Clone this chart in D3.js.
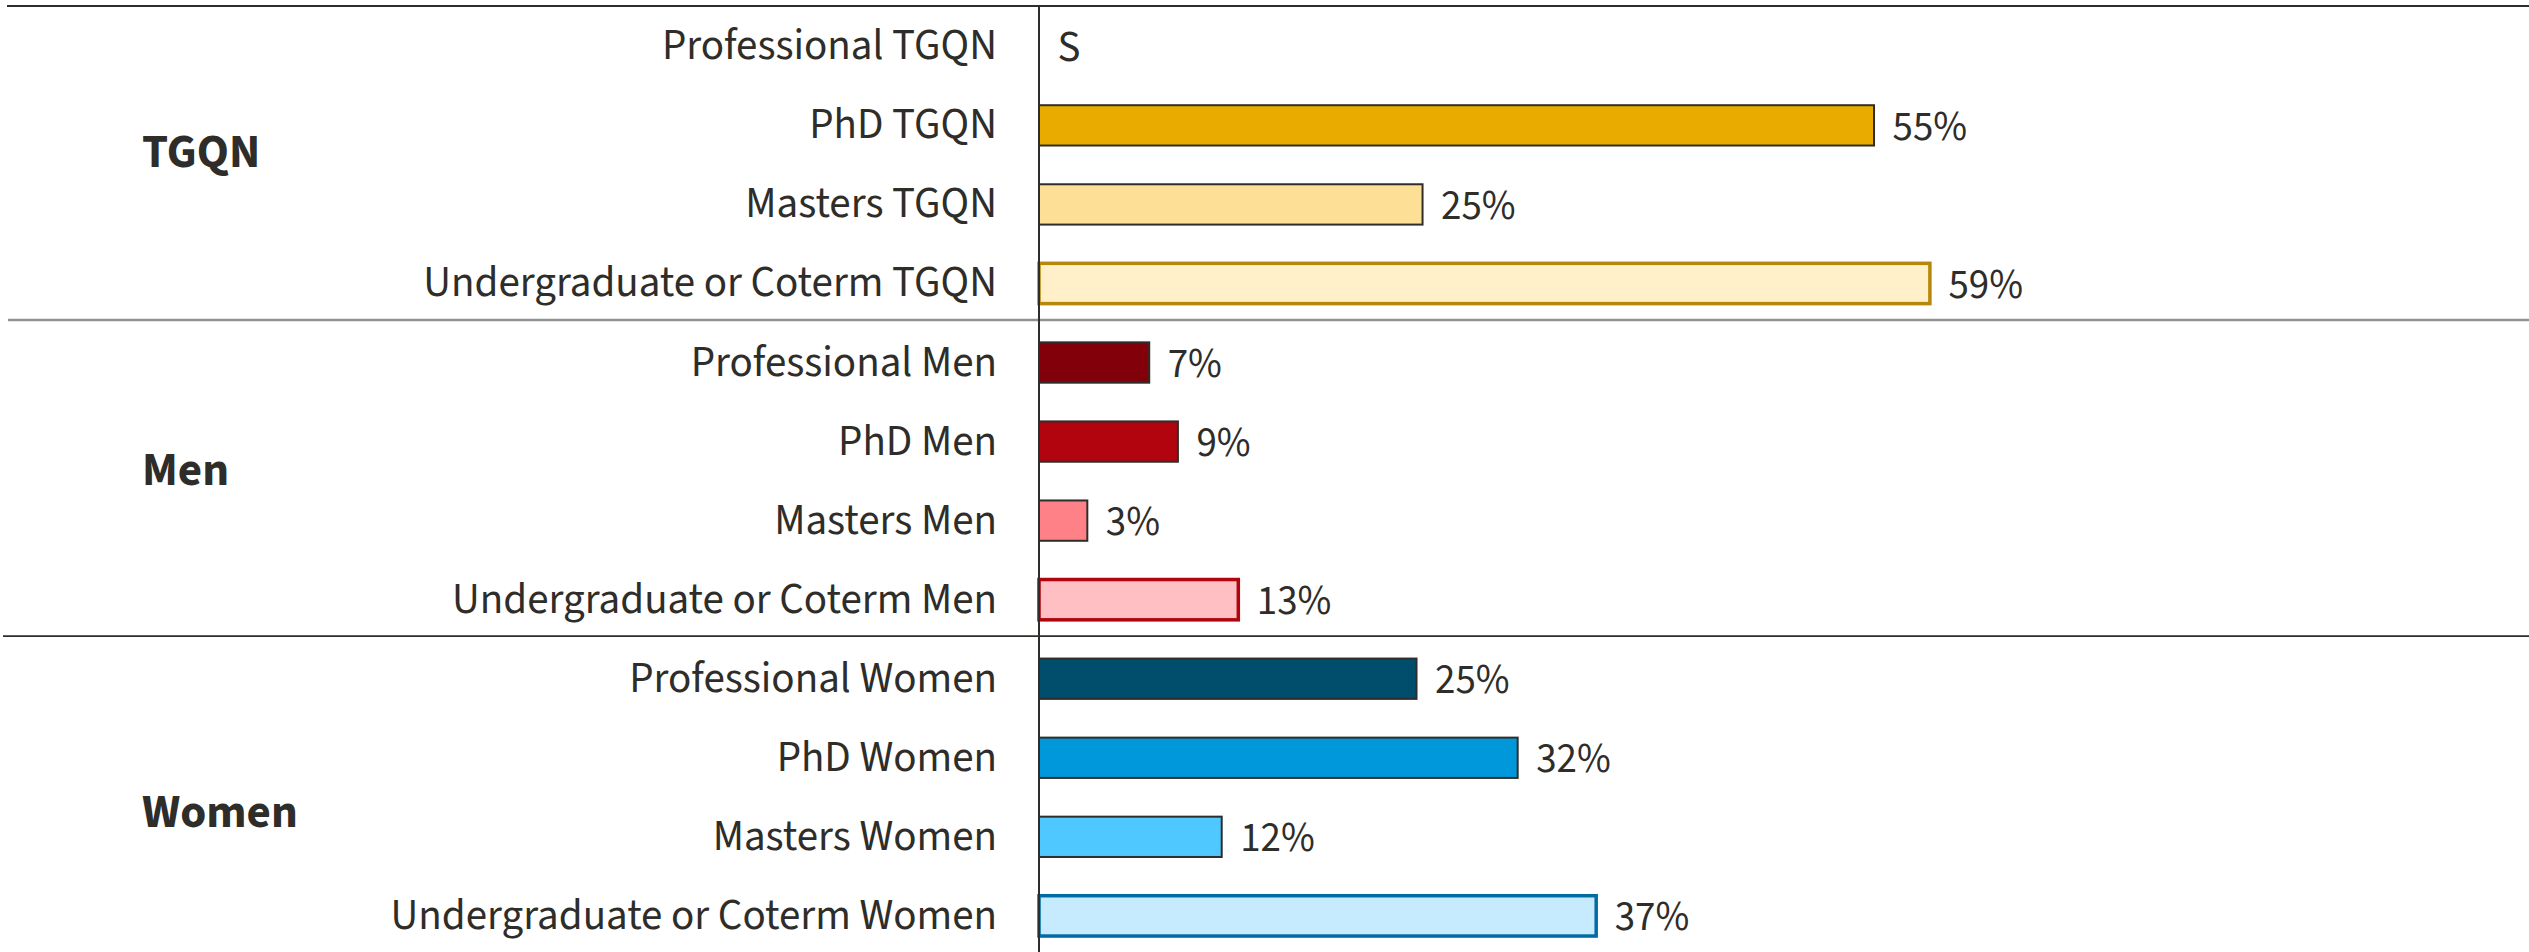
<!DOCTYPE html>
<html><head><meta charset="utf-8">
<script src="https://cdn.jsdelivr.net/npm/d3@7"></script>
<style>
html,body{margin:0;padding:0;background:#fff;}
svg{display:block;}
text{font-family:"Source Sans 3","Source Sans Pro",Lato,sans-serif;fill:#2e2d29;}
</style></head>
<body>
<svg id="chart" width="2529" height="952"></svg>
<script>
// ---- data ----
const groups = ["TGQN", "Men", "Women"];
const levels = ["Professional", "PhD", "Masters", "Undergraduate or Coterm"];
const valuesTGQN  = [null, 55.3, 25.4, 59.0];   // null = suppressed ("S")
const valuesMen   = [7.3, 9.2, 3.2, 13.2];
const valuesWomen = [25.0, 31.7, 12.1, 36.9];
const suppressedLabel = "S";

// colours per group (fills per level) and undergraduate outline
const fillsTGQN  = ["#E9AB00", "#E9AB00", "#FEDF96", "#FFF0CA"];
const fillsMen   = ["#820009", "#B1040E", "#FF8188", "#FFBFC3"];
const fillsWomen = ["#004D6C", "#0098DB", "#4FC8FF", "#C6EBFF"];
const ugStroke   = {TGQN: "#B5870A", Men: "#B1040E", Women: "#016CA2"};

// ---- build rows ----
const valuesBy = {TGQN: valuesTGQN, Men: valuesMen, Women: valuesWomen};
const fillsBy = {TGQN: fillsTGQN, Men: fillsMen, Women: fillsWomen};
const rows = [];
groups.forEach(g => levels.forEach((l, i) => rows.push({
  group: g, level: l, idx: i, key: l + " " + g, value: valuesBy[g][i], fill: fillsBy[g][i],
  stroke: i === 3 ? ugStroke[g] : "#2e2d29", sw: i === 3 ? 3.5 : 2
})));

const W = 2529, H = 952;
const axisX = 1039;
const svg = d3.select("#chart");

const y = d3.scaleBand().domain(rows.map(d => d.key))
  .range([6.8, 955.4]).paddingInner(0.49).paddingOuter(0.245);
const x = d3.scaleLinear().domain([0, 100]).range([axisX, axisX + 1510]);
const fmt = d => d3.format(".0f")(d) + "%";
const step = y.step();

// top line
svg.append("line").attr("x1", 7).attr("x2", W).attr("y1", 6).attr("y2", 6)
  .attr("stroke", "#2e2d29").attr("stroke-width", 2);

// group separators
const sepStyles = [{color: "#959190", w: 2.5, x1: 8}, {color: "#2e2d29", w: 1.8, x1: 3}];
groups.slice(1).forEach((g, i) => {
  const yy = y(levels[0] + " " + g) - (step - y.bandwidth()) / 2 - 3;
  svg.append("line").attr("x1", sepStyles[i].x1).attr("x2", W).attr("y1", yy).attr("y2", yy)
    .attr("stroke", sepStyles[i].color).attr("stroke-width", sepStyles[i].w);
});

// bars
svg.append("g").selectAll("rect").data(rows.filter(d => d.value != null)).join("rect")
  .attr("x", x(0)).attr("y", d => y(d.key))
  .attr("width", d => x(d.value) - x(0)).attr("height", y.bandwidth())
  .attr("fill", d => d.fill).attr("stroke", d => d.stroke).attr("stroke-width", d => d.sw);

// value labels
svg.append("g").selectAll("text").data(rows).join("text")
  .attr("x", d => (d.value == null ? x(0) : x(d.value)) + 18.5)
  .attr("y", d => y(d.key) + y.bandwidth() / 2 + (d.value == null ? 15 : 14.5))
  .attr("font-size", d => d.value == null ? 43 : 41)
  .text(d => d.value == null ? suppressedLabel : fmt(d.value));

// category labels
svg.append("g").selectAll("text").data(rows).join("text")
  .attr("x", 997).attr("text-anchor", "end")
  .attr("y", d => y(d.key) + y.bandwidth() / 2 + 13)
  .attr("font-size", 43)
  .text(d => d.key);

// group labels
const groupDy = {TGQN: 2, Men: 3.5, Women: 29.5};
svg.append("g").selectAll("text").data(groups).join("text")
  .attr("x", 142)
  .attr("y", g => {
    const a = y(levels[0] + " " + g), b = y(levels[3] + " " + g) + y.bandwidth();
    return (a + b) / 2 + groupDy[g];
  })
  .attr("font-size", 47).attr("font-weight", 700)
  .text(g => g);

// vertical axis line
svg.append("line").attr("x1", axisX).attr("x2", axisX).attr("y1", 5).attr("y2", H)
  .attr("stroke", "#2e2d29").attr("stroke-width", 2);
</script></body></html>
